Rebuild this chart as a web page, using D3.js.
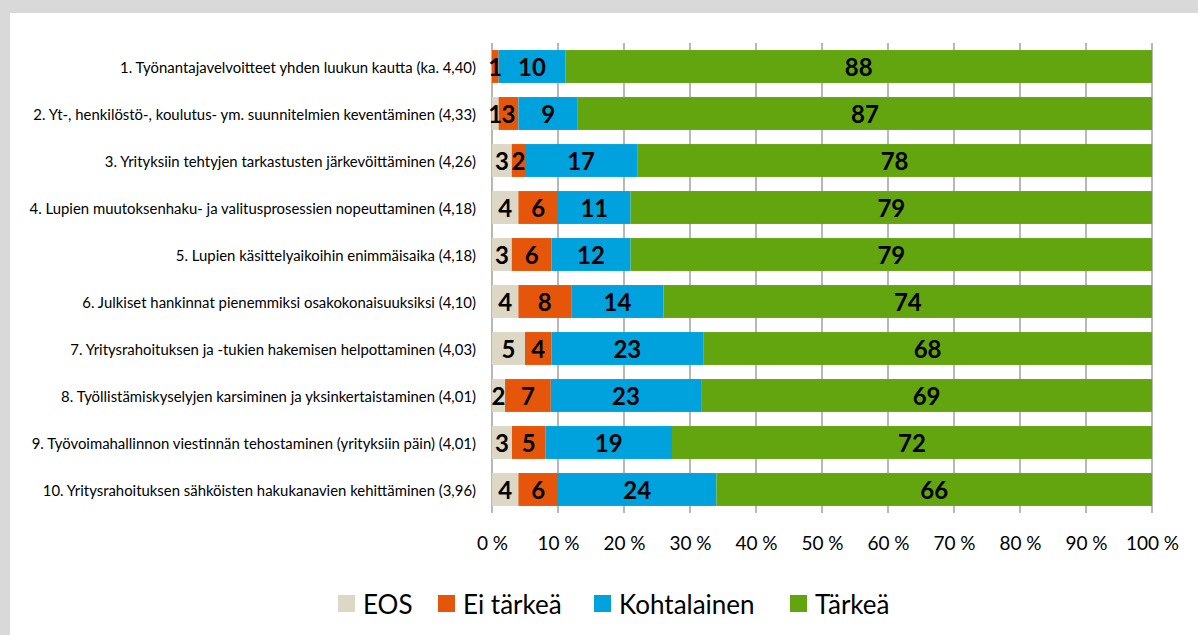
<!DOCTYPE html>
<html lang="fi">
<head>
<meta charset="utf-8">
<title>Tärkeys</title>
<script src="https://d3js.org/d3.v7.min.js"></script>
<style>
  body { margin: 0; background: #d9d9d9; }
  svg { display: block; }
  text { font-family: Lato, "Open Sans", sans-serif; fill: #000; }
  .cat { font-size: 14.9px; }
  .val { font-size: 24px; font-weight: bold; }
  .tick text { font-size: 19px; }
  .legend text { font-size: 26px; }
</style>
</head>
<body>
<svg id="chart" width="1198" height="635"></svg>
<script>
// categories, top to bottom
const categories = [
  "1. Työnantajavelvoitteet yhden luukun kautta (ka. 4,40)",
  "2. Yt-, henkilöstö-, koulutus- ym. suunnitelmien keventäminen (4,33)",
  "3. Yrityksiin tehtyjen tarkastusten järkevöittäminen (4,26)",
  "4. Lupien muutoksenhaku- ja valitusprosessien nopeuttaminen (4,18)",
  "5. Lupien käsittelyaikoihin enimmäisaika (4,18)",
  "6. Julkiset hankinnat pienemmiksi osakokonaisuuksiksi (4,10)",
  "7. Yritysrahoituksen ja -tukien hakemisen helpottaminen (4,03)",
  "8. Työllistämiskyselyjen karsiminen ja yksinkertaistaminen (4,01)",
  "9. Työvoimahallinnon viestinnän tehostaminen (yrityksiin päin) (4,01)",
  "10. Yritysrahoituksen sähköisten hakukanavien kehittäminen (3,96)"
];

// series values (%)
const eos          = [0, 1, 3, 4, 3, 4, 5, 2, 3, 4];
const eiTarkea     = [1, 3, 2, 6, 6, 8, 4, 7, 5, 6];
const kohtalainen  = [10, 9, 17, 11, 12, 14, 23, 23, 19, 24];
const tarkea       = [88, 87, 78, 79, 79, 74, 68, 69, 72, 66];

const seriesNames = ["EOS", "Ei tärkeä", "Kohtalainen", "Tärkeä"];
const colors = ["#ddd8c5", "#e5560a", "#00a2de", "#62a50e"];
const xTicks = [0, 0.1, 0.2, 0.3, 0.4, 0.5, 0.6, 0.7, 0.8, 0.9, 1];

const svg = d3.select("#chart");

// white chart area inside the grey frame
svg.append("rect")
  .attr("x", 10).attr("y", 13)
  .attr("width", 1188).attr("height", 622)
  .attr("fill", "#fff");

const plotLeft = 492, plotRight = 1152, plotTop = 43, plotBottom = 513;

const rows = categories.map((c, i) => ({
  cat: c,
  "EOS": eos[i],
  "Ei tärkeä": eiTarkea[i],
  "Kohtalainen": kohtalainen[i],
  "Tärkeä": tarkea[i]
}));

// 100 % stacked
const stacked = d3.stack()
  .keys(seriesNames)
  .offset(d3.stackOffsetExpand)(rows);

const x = d3.scaleLinear().domain([0, 1]).range([plotLeft, plotRight]);
const y = d3.scaleBand().domain(categories).range([plotTop, plotBottom])
  .paddingInner(0.3).paddingOuter(0.15);

// gridlines
svg.append("g").selectAll("line")
  .data(xTicks)
  .join("line")
  .attr("x1", d => x(d)).attr("x2", d => x(d))
  .attr("y1", plotTop).attr("y2", plotBottom)
  .attr("stroke", "#a6a6a6")
  .attr("stroke-width", 1.6);

// bars
const layer = svg.append("g").selectAll("g")
  .data(stacked)
  .join("g")
  .attr("fill", (d, i) => colors[i]);

layer.selectAll("rect")
  .data(d => d)
  .join("rect")
  .attr("x", d => x(d[0]))
  .attr("y", d => y(d.data.cat))
  .attr("width", d => x(d[1]) - x(d[0]))
  .attr("height", y.bandwidth());

// value labels
stacked.forEach(s => {
  svg.append("g").selectAll("text")
    .data(s.filter(d => d.data[s.key] > 0))
    .join("text")
    .attr("class", "val")
    .attr("x", d => (x(d[0]) + x(d[1])) / 2)
    .attr("y", d => y(d.data.cat) + y.bandwidth() / 2)
    .attr("text-anchor", "middle")
    .attr("dominant-baseline", "central")
    .text(d => d.data[s.key]);
});

// category labels
svg.append("g").selectAll("text")
  .data(categories)
  .join("text")
  .attr("class", "cat")
  .attr("x", 476)
  .attr("y", d => y(d) + y.bandwidth() / 2)
  .attr("text-anchor", "end")
  .attr("dominant-baseline", "central")
  .text(d => d);

// x axis
const xAxis = d3.axisBottom(x)
  .tickValues(xTicks)
  .tickSize(0)
  .tickPadding(0)
  .tickFormat(d => Math.round(d * 100) + " %");

const gx = svg.append("g")
  .attr("transform", "translate(0,534)")
  .call(xAxis);
gx.select(".domain").remove();
gx.selectAll("text").attr("fill", "#000").attr("dy", "0.85em")
  .style("font-family", "Lato, sans-serif");

// legend
const legendX = [338, 438, 594, 790];
const lg = svg.append("g").attr("class", "legend")
  .selectAll("g")
  .data(seriesNames)
  .join("g")
  .attr("transform", (d, i) => `translate(${legendX[i]},595)`);

lg.append("rect")
  .attr("width", 17).attr("height", 17)
  .attr("fill", (d, i) => colors[i]);

lg.append("text")
  .attr("x", 25).attr("y", 9)
  .attr("dominant-baseline", "central")
  .text(d => d);
</script>
</body>
</html>
